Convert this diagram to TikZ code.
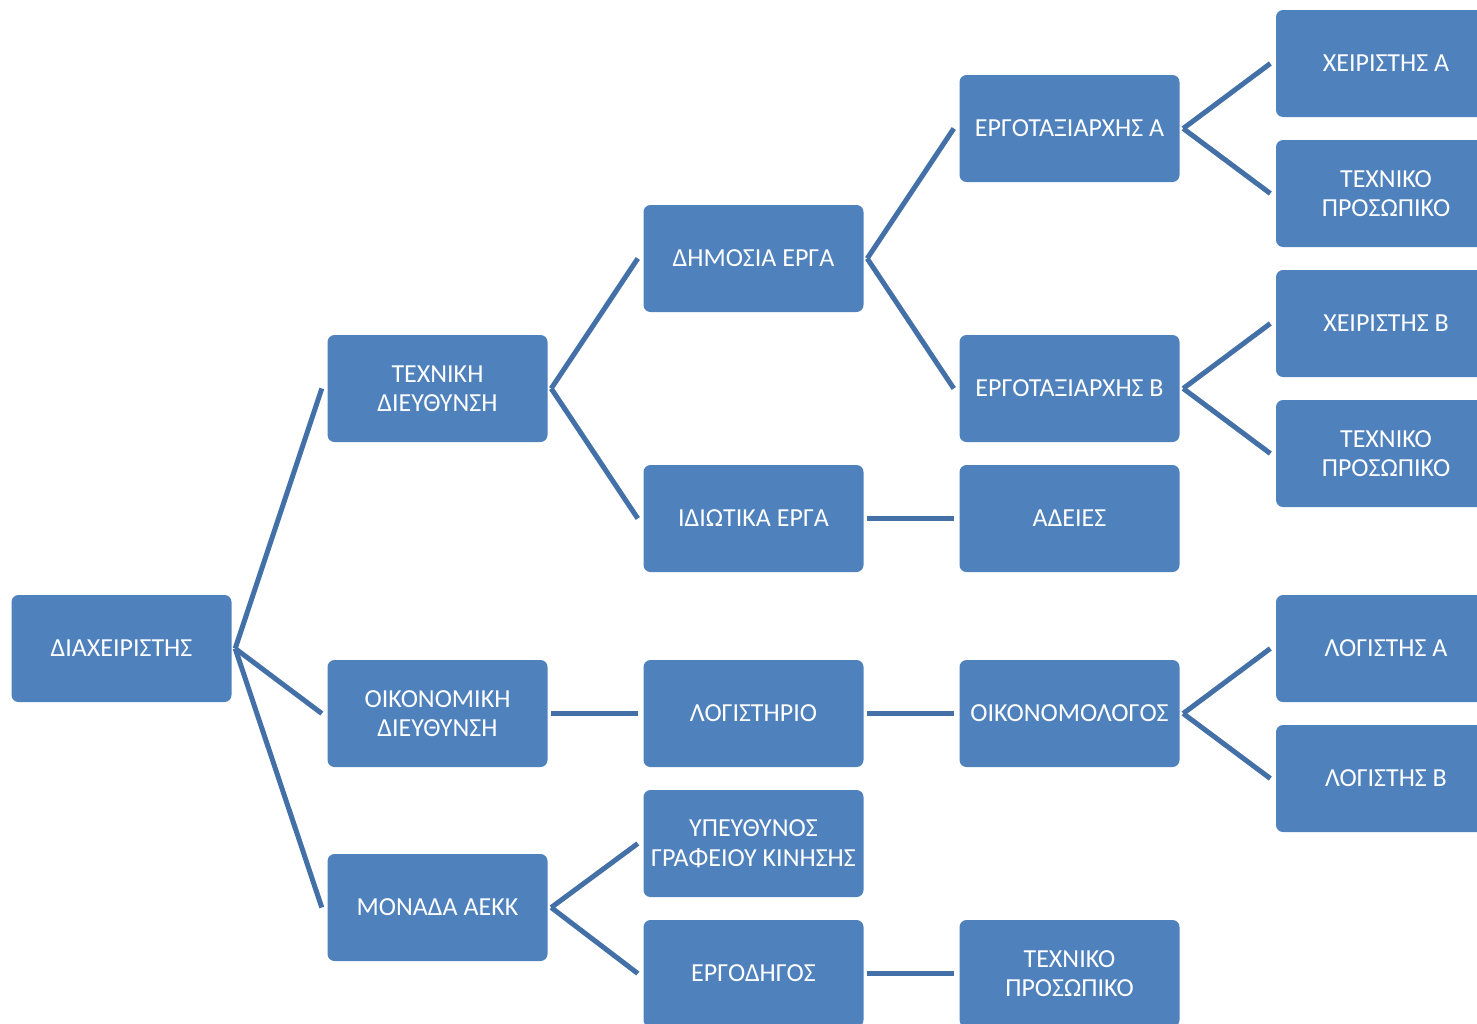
\documentclass[tikz,border=0pt]{standalone}
\usepackage{fontspec}
\setmainfont{Carlito}
\definecolor{boxfill}{HTML}{4F81BD}
\definecolor{linecol}{HTML}{4470A8}
\begin{document}
\begin{tikzpicture}[x=1pt,y=-1pt,
  orgbox/.style={rectangle,rounded corners=7pt,fill=boxfill,draw=none,
    minimum width=220pt,minimum height=107pt,inner sep=0pt,
    text=white,align=center,font=\fontsize{26}{29.5}\selectfont},
  conn/.style={draw=linecol,line width=5pt}]
\useasboundingbox (0,0) rectangle (1477,1023);
\node[orgbox] (diax) at (121.5,648.5) {ΔΙΑΧΕΙΡΙΣΤΗΣ};
\node[orgbox] (tech) at (437.5,388.5) {ΤΕΧΝΙΚΗ\\ΔΙΕΥΘΥΝΣΗ};
\node[orgbox] (oikd) at (437.5,713.5) {ΟΙΚΟΝΟΜΙΚΗ\\ΔΙΕΥΘΥΝΣΗ};
\node[orgbox] (mon) at (437.5,907.5) {ΜΟΝΑΔΑ ΑΕΚΚ};
\node[orgbox] (dhm) at (753.5,258.5) {ΔΗΜΟΣΙΑ ΕΡΓΑ};
\node[orgbox] (idi) at (753.5,518.5) {ΙΔΙΩΤΙΚΑ ΕΡΓΑ};
\node[orgbox] (logr) at (753.5,713.5) {ΛΟΓΙΣΤΗΡΙΟ};
\node[orgbox] (ypey) at (753.5,843.5) {ΥΠΕΥΘΥΝΟΣ\\ΓΡΑΦΕΙΟΥ ΚΙΝΗΣΗΣ};
\node[orgbox] (ergd) at (753.5,973.5) {ΕΡΓΟΔΗΓΟΣ};
\node[orgbox] (erga) at (1069.5,128.5) {ΕΡΓΟΤΑΞΙΑΡΧΗΣ Α};
\node[orgbox] (ergb) at (1069.5,388.5) {ΕΡΓΟΤΑΞΙΑΡΧΗΣ Β};
\node[orgbox] (ade) at (1069.5,518.5) {ΑΔΕΙΕΣ};
\node[orgbox] (oikl) at (1069.5,713.5) {ΟΙΚΟΝΟΜΟΛΟΓΟΣ};
\node[orgbox] (tp3) at (1069.5,973.5) {ΤΕΧΝΙΚΟ\\ΠΡΟΣΩΠΙΚΟ};
\node[orgbox] (xa) at (1386,63.5) {ΧΕΙΡΙΣΤΗΣ Α};
\node[orgbox] (tp1) at (1386,193.5) {ΤΕΧΝΙΚΟ\\ΠΡΟΣΩΠΙΚΟ};
\node[orgbox] (xb) at (1386,323.5) {ΧΕΙΡΙΣΤΗΣ Β};
\node[orgbox] (tp2) at (1386,453.5) {ΤΕΧΝΙΚΟ\\ΠΡΟΣΩΠΙΚΟ};
\node[orgbox] (la) at (1386,648.5) {ΛΟΓΙΣΤΗΣ Α};
\node[orgbox] (lb) at (1386,778.5) {ΛΟΓΙΣΤΗΣ Β};
\foreach \p/\c in {diax/tech,diax/oikd,diax/mon,tech/dhm,tech/idi,oikd/logr,
  mon/ypey,mon/ergd,dhm/erga,dhm/ergb,idi/ade,logr/oikl,ergd/tp3,
  erga/xa,erga/tp1,ergb/xb,ergb/tp2,oikl/la,oikl/lb}
  \draw[conn] ([xshift=3.5pt]\p.east) -- ([xshift=-5.5pt]\c.west);
\end{tikzpicture}
\end{document}
